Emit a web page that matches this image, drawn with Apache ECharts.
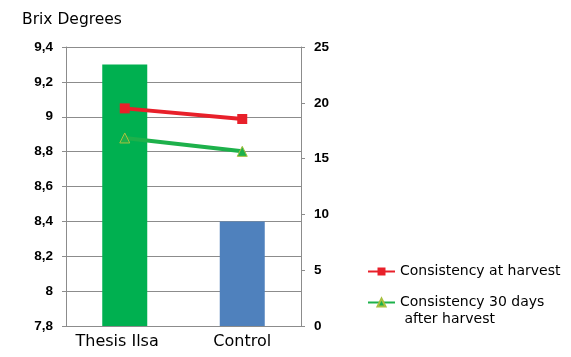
<!DOCTYPE html>
<html>
<head>
<meta charset="utf-8">
<script src="https://cdn.jsdelivr.net/npm/echarts@6/dist/echarts.min.js"></script>
<style>html,body{margin:0;padding:0;background:#fff;}#c{width:571px;height:357px;}</style>
</head>
<body>
<div id="c"></div>
<script>
const categories = ['Thesis Ilsa', 'Control'];
const brixValues = [9.3, 8.4];
const harvestConsistency = [19.5, 18.55];
const laterConsistency = [16.85, 15.65];
const barColors = ['#00B050', '#4F81BD'];
const leftAxisRange = [7.8, 9.4, 0.2];
const rightAxisRange = [0, 25, 5];

const gray = '#8c8c8c';
const fmt = v => String(+v.toFixed(2)).replace('.', ',');

const chart = echarts.init(document.getElementById('c'));
chart.setOption({
  animation: false,
  title: {
    text: 'Brix Degrees', left: 17, top: 7,
    textStyle: { fontFamily: 'DejaVu Sans', fontSize: 15.5, fontWeight: 'normal', color: '#000' }
  },
  grid: { left: 66, right: 270, top: 47, bottom: 31 },
  legend: {
    orient: 'vertical', left: 367, top: 263, itemGap: -3, padding: 0,
    itemWidth: 27, itemHeight: 10,
    textStyle: { fontFamily: 'DejaVu Sans', fontSize: 14, color: '#000', lineHeight: 17 },
    formatter: n => n === 'Consistency 30 days after harvest' ? '\nConsistency 30 days\n after harvest' : n,
    data: ['Consistency at harvest', 'Consistency 30 days after harvest']
  },
  xAxis: {
    type: 'category', data: categories,
    axisLine: { lineStyle: { color: gray } },
    axisTick: { length: 5, lineStyle: { color: gray } },
    axisLabel: {
      fontFamily: 'DejaVu Sans', fontSize: 16, color: '#000', margin: 8, interval: 0, hideOverlap: false,
      formatter: v => v === 'Thesis Ilsa' ? v + '   ' : v
    }
  },
  yAxis: [
    {
      type: 'value', min: leftAxisRange[0], max: leftAxisRange[1], interval: leftAxisRange[2],
      axisLine: { show: true, lineStyle: { color: gray } },
      axisTick: { show: true, length: 4, lineStyle: { color: gray } },
      splitLine: { lineStyle: { color: gray } },
      axisLabel: { fontFamily: 'Liberation Sans', fontWeight: 'bold', fontSize: 13.5, color: '#000', margin: 13, formatter: fmt }
    },
    {
      type: 'value', min: rightAxisRange[0], max: rightAxisRange[1], interval: rightAxisRange[2],
      position: 'right',
      axisLine: { show: true, lineStyle: { color: gray } },
      axisTick: { show: true, length: 4, lineStyle: { color: gray } },
      splitLine: { show: false },
      axisLabel: { fontFamily: 'Liberation Sans', fontWeight: 'bold', fontSize: 13.5, color: '#000', margin: 13 }
    }
  ],
  series: [
    {
      type: 'bar', name: 'Brix', yAxisIndex: 0, barWidth: 45,
      data: brixValues.map((v, i) => ({ value: v, itemStyle: { color: barColors[i] } }))
    },
    {
      type: 'line', name: 'Consistency at harvest', yAxisIndex: 1, data: harvestConsistency,
      symbol: 'rect', symbolSize: 10,
      lineStyle: { color: '#E8202A', width: 4 },
      itemStyle: { color: '#E8202A' }
    },
    {
      type: 'line', name: 'Consistency 30 days after harvest', yAxisIndex: 1, data: laterConsistency,
      symbol: 'triangle', symbolSize: 10,
      lineStyle: { color: '#1DB14B', width: 4 },
      itemStyle: { color: '#1DB14B', borderColor: '#A8C040', borderWidth: 1 }
    }
  ]
});
</script>
</body>
</html>
